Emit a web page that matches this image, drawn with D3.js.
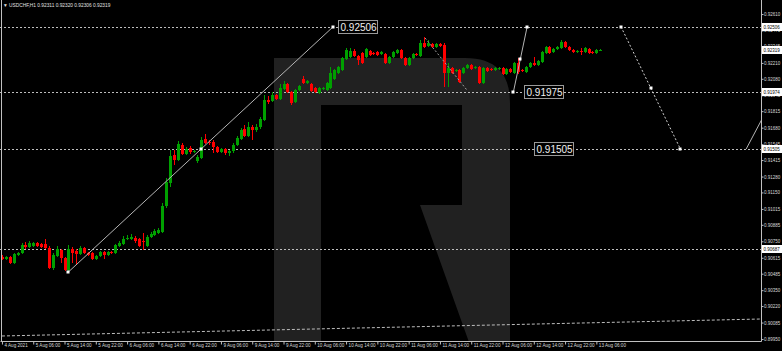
<!DOCTYPE html>
<html>
<head>
<meta charset="utf-8">
<script src="https://cdn.jsdelivr.net/npm/d3@7"></script>
<style>
  html, body { margin: 0; padding: 0; background: #000; }
  svg { display: block; }
</style>
</head>
<body>
<svg id="chart" width="782" height="351"></svg>
<script>
// USDCHF H1 candles, 4 Aug 22:00 .. 13 Aug
const open = [
  0.90621,0.90605,0.90621,0.90572,0.90638,0.90654,0.90720,0.90703,0.90711,0.90736,
  0.90728,0.90728,0.90695,0.90531,0.90630,0.90679,0.90613,0.90515,0.90687,0.90671,
  0.90646,0.90695,0.90654,0.90654,0.90605,0.90630,0.90662,0.90638,0.90662,0.90654,
  0.90711,0.90728,0.90769,0.90769,0.90777,0.90769,0.90752,0.90711,0.90785,0.90802,
  0.90818,0.90826,0.91039,0.91227,0.91456,0.91415,0.91538,0.91465,0.91514,0.91481,
  0.91407,0.91432,0.91587,0.91563,0.91563,0.91522,0.91481,0.91505,0.91473,0.91489,
  0.91538,0.91587,0.91669,0.91612,0.91686,0.91661,0.91686,0.91743,0.91907,0.91898,
  0.91947,0.91915,0.91996,0.92037,0.91972,0.91890,0.91988,0.92078,0.92046,0.92037,
  0.92005,0.91964,0.91996,0.91988,0.92005,0.92078,0.92128,0.92152,0.92242,0.92258,
  0.92308,0.92267,0.92291,0.92258,0.92308,0.92291,0.92299,0.92283,0.92283,0.92209,
  0.92258,0.92291,0.92316,0.92250,0.92193,0.92250,0.92283,0.92267,0.92373,0.92348,
  0.92365,0.92340,0.92365,0.92357,0.92128,0.92168,0.92144,0.92152,0.92128,0.92168,
  0.92193,0.92168,0.92177,0.92046,0.92168,0.92160,0.92152,0.92160,0.92168,0.92119,
  0.92160,0.92128,0.92209,0.92152,0.92136,0.92177,0.92209,0.92193,0.92218,0.92291,
  0.92340,0.92299,0.92324,0.92332,0.92381,0.92340,0.92316,0.92299,0.92308,0.92299,
  0.92324,0.92299,0.92291,0.92311
];
const high = [
  0.90638,0.90630,0.90630,0.90654,0.90662,0.90736,0.90744,0.90752,0.90744,0.90744,
  0.90736,0.90769,0.90711,0.90654,0.90711,0.90687,0.90621,0.90720,0.90703,0.90687,
  0.90711,0.90703,0.90662,0.90662,0.90638,0.90671,0.90671,0.90671,0.90671,0.90728,
  0.90752,0.90793,0.90802,0.90810,0.90793,0.90777,0.90818,0.90802,0.90826,0.90851,
  0.90859,0.91063,0.91268,0.91497,0.91497,0.91571,0.91555,0.91522,0.91530,0.91497,
  0.91456,0.91604,0.91628,0.91579,0.91579,0.91530,0.91514,0.91514,0.91497,0.91555,
  0.91612,0.91677,0.91702,0.91726,0.91702,0.91710,0.91767,0.91947,0.91939,0.91972,
  0.91956,0.92037,0.92062,0.92046,0.91980,0.91996,0.92029,0.92103,0.92070,0.92046,
  0.92013,0.92013,0.92013,0.92054,0.92177,0.92160,0.92185,0.92258,0.92332,0.92332,
  0.92324,0.92275,0.92299,0.92332,0.92316,0.92299,0.92308,0.92308,0.92291,0.92267,
  0.92308,0.92324,0.92324,0.92258,0.92258,0.92291,0.92291,0.92398,0.92422,0.92398,
  0.92373,0.92373,0.92373,0.92373,0.92209,0.92177,0.92160,0.92160,0.92177,0.92201,
  0.92201,0.92185,0.92185,0.92177,0.92177,0.92168,0.92177,0.92177,0.92177,0.92168,
  0.92168,0.92218,0.92250,0.92160,0.92185,0.92218,0.92258,0.92234,0.92308,0.92348,
  0.92348,0.92332,0.92348,0.92398,0.92389,0.92348,0.92324,0.92316,0.92332,0.92340,
  0.92332,0.92308,0.92324,0.92320
];
const low = [
  0.90597,0.90597,0.90564,0.90564,0.90630,0.90646,0.90687,0.90695,0.90703,0.90703,
  0.90695,0.90687,0.90523,0.90515,0.90621,0.90572,0.90507,0.90499,0.90572,0.90556,
  0.90638,0.90646,0.90630,0.90597,0.90597,0.90621,0.90605,0.90630,0.90646,0.90646,
  0.90703,0.90720,0.90761,0.90761,0.90736,0.90703,0.90679,0.90703,0.90777,0.90793,
  0.90810,0.90818,0.91023,0.91194,0.91375,0.91407,0.91456,0.91456,0.91465,0.91473,
  0.91391,0.91424,0.91546,0.91538,0.91473,0.91473,0.91473,0.91456,0.91448,0.91473,
  0.91530,0.91579,0.91604,0.91604,0.91579,0.91645,0.91669,0.91735,0.91874,0.91890,
  0.91907,0.91907,0.91988,0.91964,0.91866,0.91882,0.91980,0.92037,0.92037,0.91972,
  0.91964,0.91956,0.91988,0.91980,0.91996,0.92070,0.92119,0.92144,0.92234,0.92250,
  0.92258,0.92193,0.92201,0.92250,0.92267,0.92275,0.92267,0.92275,0.92201,0.92201,
  0.92250,0.92283,0.92242,0.92185,0.92185,0.92242,0.92267,0.92258,0.92332,0.92340,
  0.92332,0.92332,0.92340,0.92013,0.92013,0.92119,0.92136,0.92046,0.92119,0.92160,
  0.92152,0.92160,0.92037,0.92037,0.92136,0.92144,0.92144,0.92152,0.92111,0.92111,
  0.92128,0.92119,0.92119,0.92136,0.92128,0.92168,0.92185,0.92185,0.92209,0.92283,
  0.92283,0.92291,0.92316,0.92324,0.92332,0.92308,0.92291,0.92291,0.92275,0.92291,
  0.92283,0.92283,0.92283,0.92306
];
const close = [
  0.90605,0.90621,0.90572,0.90646,0.90654,0.90720,0.90703,0.90736,0.90736,0.90711,
  0.90703,0.90695,0.90531,0.90638,0.90687,0.90613,0.90515,0.90687,0.90654,0.90646,
  0.90695,0.90654,0.90638,0.90605,0.90630,0.90662,0.90638,0.90662,0.90654,0.90720,
  0.90736,0.90769,0.90777,0.90785,0.90752,0.90711,0.90744,0.90785,0.90810,0.90834,
  0.90842,0.91039,0.91235,0.91448,0.91415,0.91546,0.91465,0.91505,0.91481,0.91489,
  0.91440,0.91579,0.91555,0.91555,0.91522,0.91481,0.91505,0.91473,0.91489,0.91538,
  0.91596,0.91661,0.91612,0.91686,0.91661,0.91686,0.91751,0.91907,0.91890,0.91947,
  0.91915,0.92005,0.92037,0.91972,0.91882,0.91988,0.92021,0.92046,0.92062,0.91980,
  0.91972,0.92005,0.92005,0.92046,0.92128,0.92152,0.92177,0.92250,0.92316,0.92308,
  0.92267,0.92234,0.92209,0.92324,0.92275,0.92283,0.92275,0.92299,0.92209,0.92258,
  0.92299,0.92316,0.92250,0.92193,0.92250,0.92283,0.92275,0.92373,0.92340,0.92373,
  0.92340,0.92365,0.92348,0.92128,0.92168,0.92128,0.92152,0.92054,0.92168,0.92193,
  0.92160,0.92177,0.92046,0.92168,0.92144,0.92152,0.92168,0.92168,0.92119,0.92160,
  0.92136,0.92209,0.92136,0.92144,0.92177,0.92209,0.92193,0.92226,0.92299,0.92340,
  0.92291,0.92324,0.92340,0.92381,0.92340,0.92316,0.92299,0.92308,0.92299,0.92332,
  0.92291,0.92291,0.92316,0.92319
];

const xLabels = ["4 Aug 2021","5 Aug 06:00","5 Aug 14:00","5 Aug 22:00","6 Aug 06:00",
  "6 Aug 14:00","6 Aug 22:00","9 Aug 06:00","9 Aug 14:00","9 Aug 22:00","10 Aug 06:00",
  "10 Aug 14:00","10 Aug 22:00","11 Aug 06:00","11 Aug 14:00","11 Aug 22:00",
  "12 Aug 06:00","12 Aug 14:00","12 Aug 22:00","13 Aug 06:00"];
const xLabelBars = [0,8,16,24,32,40,48,56,64,72,80,88,96,104,112,120,128,136,144,152];

const yTicks = [0.92610,0.92475,0.92345,0.92210,0.92080,0.91945,0.91815,0.91680,0.91545,
  0.91415,0.91280,0.91150,0.91015,0.90885,0.90750,0.90615,0.90485,0.90350,0.90220,
  0.90085,0.89950];

// horizontal levels and their price tags on the axis
const levels = [0.92506, 0.91975, 0.91505, 0.90687];
const axisTags = [0.92506, 0.92319, 0.91974, 0.91505, 0.90687];

// drawn objects: [bar, price]
const trendUp = [[17, 0.90499], [50.85, 0.91503], [84.7, 0.92506]];
const trendShort = [[130.8, 0.91975], [132.55, 0.92240], [134.3, 0.92506]];
const projDown = [[158.3, 0.92506], [165.9, 0.92005], [173.5, 0.91505]];
const rightLine = [[190.3, 0.91505], [195.5, 0.91820]];
const dropLine = [[108.2, 0.92414], [118.9, 0.91988]];
const bottomLine = [[0, 0.89975], [194, 0.90114]];
const priceBoxes = [
  {bar: 85.9, price: 0.92506, text: "0.92506"},
  {bar: 133.5, price: 0.91975, text: "0.91975"},
  {bar: 136.1, price: 0.91505, text: "0.91505"}
];

const W = 761, H = 341;
const svg = d3.select("#chart");
svg.append("rect").attr("width", 782).attr("height", 351).attr("fill", "#000");

const x = d3.scaleLinear().domain([-0.5, 194.1]).range([0, W]);
const y = d3.scaleLinear().domain([0.89934, 0.92725]).range([H, 0]);

svg.append("clipPath").attr("id", "plot")
  .append("rect").attr("x", 0).attr("y", 0).attr("width", W).attr("height", H);

const g = svg.append("g").attr("clip-path", "url(#plot)");

// watermark logo (stem, rounded bowl, diagonal leg)
g.append("path")
  .attr("fill", "#212121")
  .attr("fill-rule", "evenodd")
  .attr("d", "M274,345 V58 H465 Q510,58 510,103 V345 H470 L420,205 H321 V345 Z" +
             " M321,105 H462 V205 H321 Z");

// level lines
g.selectAll(".lvl").data(levels).enter().append("line")
  .attr("x1", 0).attr("x2", W)
  .attr("y1", d => Math.round(y(d)) + 0.5).attr("y2", d => Math.round(y(d)) + 0.5)
  .attr("stroke", "#bdbdbd").attr("stroke-width", 1).attr("stroke-dasharray", "2,2");

// candles
const bars = d3.range(close.length);
const cx = i => Math.round(x(i));
const col = i => close[i] >= open[i] ? "#00a000" : "#ff0000";
g.selectAll(".wick").data(bars).enter().append("rect")
  .attr("x", i => cx(i)).attr("width", 1)
  .attr("y", i => Math.round(y(high[i])))
  .attr("height", i => Math.max(1, Math.round(y(low[i])) - Math.round(y(high[i]))))
  .attr("fill", col);
g.selectAll(".body").data(bars).enter().append("rect")
  .attr("x", i => cx(i) - 1).attr("width", 3)
  .attr("y", i => Math.round(y(Math.max(open[i], close[i]))))
  .attr("height", i => Math.max(1, Math.round(y(Math.min(open[i], close[i]))) - Math.round(y(Math.max(open[i], close[i])))))
  .attr("fill", col);

// drawn lines
const line = d3.line().x(d => x(d[0])).y(d => y(d[1]));
g.append("path").datum(trendUp).attr("d", line)
  .attr("fill", "none").attr("stroke", "#b4b4b4").attr("stroke-width", 1);
g.append("path").datum(trendShort).attr("d", line)
  .attr("fill", "none").attr("stroke", "#b4b4b4").attr("stroke-width", 1);
g.append("path").datum(projDown).attr("d", line)
  .attr("fill", "none").attr("stroke", "#d0d0d0").attr("stroke-width", 1).attr("stroke-dasharray", "2,2");
g.append("path").datum(rightLine).attr("d", line)
  .attr("fill", "none").attr("stroke", "#b4b4b4").attr("stroke-width", 1);
g.append("path").datum(dropLine).attr("d", line)
  .attr("fill", "none").attr("stroke", "#a0a0a0").attr("stroke-width", 1).attr("stroke-dasharray", "2,2");
g.append("path").datum(bottomLine).attr("d", line)
  .attr("fill", "none").attr("stroke", "#bdbdbd").attr("stroke-width", 1).attr("stroke-dasharray", "3,2");

// anchor squares
const anchors = trendUp.concat(trendShort, projDown);
g.selectAll(".anchor").data(anchors).enter().append("rect")
  .attr("x", d => Math.round(x(d[0])) - 1.5).attr("y", d => Math.round(y(d[1])) - 1.5)
  .attr("width", 3).attr("height", 3).attr("fill", "#fff");

// price text boxes
const box = g.selectAll(".pbox").data(priceBoxes).enter().append("g")
  .attr("transform", d => `translate(${Math.round(x(d.bar)) + 0.5},${Math.round(y(d.price)) - 6.5})`);
box.append("rect").attr("width", 39).attr("height", 13)
  .attr("fill", "#000").attr("stroke", "#9a9a9a").attr("stroke-width", 1);
box.append("text").attr("x", 2).attr("y", 10)
  .attr("fill", "#f0f0f0")
  .style("font-family", "Liberation Sans, Arial, sans-serif")
  .style("font-size", "10px")
  .text(d => d.text);

// axes
const axisFont = "Liberation Sans, Arial, sans-serif";
const yAxis = svg.append("g").attr("transform", `translate(${W + 0.5},0)`)
  .call(d3.axisRight(y).tickValues(yTicks).tickSize(2).tickFormat(d3.format(".5f")));
yAxis.select(".domain").attr("stroke", "#c0c0c0").attr("d", `M0,0V${H + 0.5}`);
yAxis.selectAll(".tick line").attr("stroke", "#c0c0c0");
yAxis.selectAll(".tick text").attr("fill", "#d8d8d8").attr("x", 2.5)
  .style("font-family", axisFont).style("font-size", "4.5px");

const xAxis = svg.append("g").attr("transform", `translate(0,${H + 0.5})`)
  .call(d3.axisBottom(x).tickValues(xLabelBars).tickSize(3).tickFormat((d, i) => xLabels[i]));
xAxis.select(".domain").attr("stroke", "#c0c0c0").attr("d", `M0.5,0H${W + 0.5}`);
xAxis.selectAll(".tick line").attr("stroke", "#c0c0c0");
xAxis.selectAll(".tick text").attr("fill", "#d8d8d8")
  .attr("text-anchor", "start").attr("x", 2).attr("y", 2).attr("dy", "0.71em")
  .style("font-family", axisFont).style("font-size", "4.6px");

// left border
svg.append("line").attr("x1", 1.5).attr("x2", 1.5).attr("y1", 0).attr("y2", H)
  .attr("stroke", "#c0c0c0");

// axis price tags
const tag = svg.selectAll(".tag").data(axisTags).enter().append("g")
  .attr("transform", d => `translate(${W + 1},${Math.round(y(d)) - 4})`);
tag.append("rect").attr("width", 21).attr("height", 8).attr("fill", "#ffffff");
tag.append("text").attr("x", 1.5).attr("y", 5.8).attr("fill", "#000")
  .style("font-family", axisFont).style("font-size", "4.5px")
  .text(d => d3.format(".5f")(d));

// title
svg.append("text").attr("x", 3).attr("y", 7).attr("fill", "#e0e0e0")
  .style("font-family", axisFont).style("font-size", "4.8px")
  .text("\u25BC  USDCHF,H1  0.92311 0.92320 0.92306 0.92319");
</script>
</body>
</html>
